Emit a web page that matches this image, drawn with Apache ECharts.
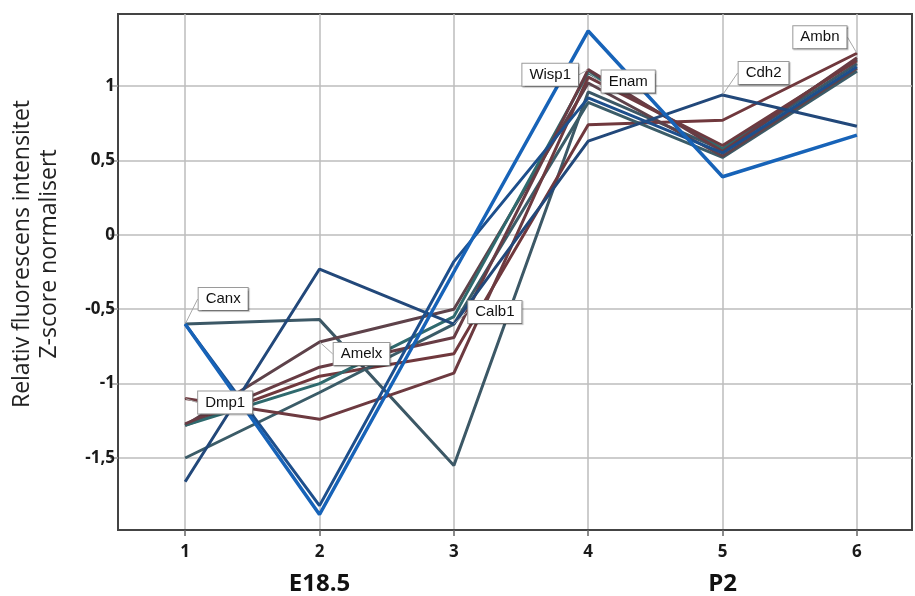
<!DOCTYPE html>
<html><head><meta charset="utf-8">
<script src="https://cdn.jsdelivr.net/npm/echarts@6/dist/echarts.min.js"></script>
<style>html,body{margin:0;padding:0;background:#fff}#c{width:915px;height:596px}</style>
</head><body><div id="c"></div>
<script>
// ---- data ----
const timePoints = [1, 2, 3, 4, 5, 6];
const stageTicks = [2, 5];
const stageNames = ['E18.5', 'P2'];
const yTicks = [-1.5, -1, -0.5, 0, 0.5, 1];

const canx  = [-0.60, -1.88, -0.25, 1.37, 0.39, 0.67];
const gene2 = [-0.60, -1.82, -0.18, 0.92, 0.55, 1.13];
const cdh2  = [-1.66, -0.23, -0.60, 0.63, 0.94, 0.73];
const gene4 = [-0.60, -0.57, -1.55, 0.96, 0.57, 1.15];
const amelx = [-1.28, -0.72, -0.50, 1.02, 0.53, 1.12];
const dmp1  = [-1.10, -1.24, -0.93, 1.06, 0.60, 1.17];
const wisp1 = [-1.27, -0.89, -0.69, 1.11, 0.56, 1.19];
const calb1 = [-1.50, -1.06, -0.60, 0.89, 0.52, 1.10];
const enam  = [-1.28, -1.00, -0.55, 1.09, 0.58, 1.18];
const ambn  = [-1.28, -0.95, -0.80, 0.74, 0.77, 1.22];

// ---- styling / annotation config ----
const seriesDefs = [
  {name: 'Gen 4', values: gene4, color: '#3c5866', width: 3, label: null},
  {name: 'Ambn',  values: ambn,  color: '#70383d', width: 3, label: {at: 5, dx: -37, dy: -16}},
  {name: 'Calb1', values: calb1, color: '#3b5c68', width: 3, label: {at: 2, dx: 41, dy: -12}},
  {name: 'Amelx', values: amelx, color: '#5e424a', width: 3, label: {at: 1, dx: 42, dy: 12}},
  {name: 'Enam',  values: enam,  color: '#2f6a6e', width: 3, label: {at: 3, dx: 40, dy: 9}},
  {name: 'Wisp1', values: wisp1, color: '#683c44', width: 3, label: {at: 3, dx: -38, dy: 5}},
  {name: 'Dmp1',  values: dmp1,  color: '#6d3a40', width: 3, label: {at: 0, dx: 40, dy: 4}},
  {name: 'Cdh2',  values: cdh2,  color: '#22487a', width: 3, label: {at: 4, dx: 41, dy: -22}},
  {name: 'Gen 2', values: gene2, color: '#1d4f8c', width: 3, label: null},
  {name: 'Canx',  values: canx,  color: '#1763b8', width: 3.5, label: {at: 0, dx: 38, dy: -25}}
];

const boxLabel = {
  show: true,
  position: 'inside',
  backgroundColor: '#ffffff',
  borderColor: '#9a9a9a',
  borderWidth: 1,
  padding: [4, 7, 3, 7],
  color: '#111',
  fontFamily: 'Liberation Sans',
  fontSize: 15,
  shadowColor: 'rgba(0,0,0,0.25)',
  shadowOffsetX: 1,
  shadowOffsetY: 1,
  shadowBlur: 1
};

const lineSeries = seriesDefs.map((d, si) => ({
  name: d.name,
  type: 'line',
  z: 2 + si,
  showSymbol: false,
  itemStyle: {color: d.color},
  lineStyle: {color: d.color, width: d.width},
  emphasis: {disabled: true},
  silent: true,
  data: d.values.map((v, i) => [timePoints[i], v])
}));

// overlay series that only carry the boxed gene labels (drawn above all lines)
const labelSeries = seriesDefs.filter(d => d.label).map(d => ({
  name: d.name + ' label',
  type: 'line',
  z: 50,
  silent: true,
  showSymbol: true,
  symbol: 'circle',
  symbolSize: 1,
  itemStyle: {color: d.color},
  lineStyle: {width: 0, opacity: 0},
  emphasis: {disabled: true},
  label: Object.assign({}, boxLabel, {formatter: d.name}),
  labelLine: {show: true, lineStyle: {color: '#a8a8a8', width: 1}},
  labelLayout: function () { return {dx: d.label.dx, dy: d.label.dy}; },
  data: [[timePoints[d.label.at], d.values[d.label.at]]]
}));

const chart = echarts.init(document.getElementById('c'), null, {renderer: 'canvas'});
chart.setOption({
  animation: false,
  backgroundColor: '#ffffff',
  grid: {left: 118, right: 3, top: 14, bottom: 66, show: true, borderColor: '#444', borderWidth: 2},
  xAxis: [{
    type: 'value', min: 0.5, max: 6.41,
    axisLine: {show: true, onZero: false, lineStyle: {color: '#444', width: 2}},
    axisTick: {show: true, customValues: timePoints, length: 6, lineStyle: {color: '#666', width: 1.5}},
    axisLabel: {customValues: timePoints, margin: 14, color: '#1a1a1a', fontWeight: 'bold', fontSize: 17, fontFamily: 'Open Sans'},
    splitLine: {show: true, lineStyle: {color: '#bdbdbd', width: 1.5}}
  }, {
    type: 'value', min: 0.5, max: 6.41, position: 'bottom',
    axisLine: {show: false}, axisTick: {show: false}, splitLine: {show: false},
    axisLabel: {customValues: stageTicks, margin: 42, color: '#111', fontWeight: 'bold', fontSize: 24, fontFamily: 'Open Sans',
      formatter: v => stageNames[stageTicks.indexOf(v)]}
  }],
  yAxis: {
    type: 'value', min: -1.984, max: 1.484,
    axisLine: {show: true, onZero: false, lineStyle: {color: '#444', width: 2}},
    axisTick: {show: true, customValues: yTicks, length: 8, lineStyle: {color: '#999', width: 1.5}},
    axisLabel: {customValues: yTicks, margin: 3, color: '#1a1a1a', fontWeight: 'bold', fontSize: 17, fontFamily: 'Open Sans',
      formatter: v => String(v).replace('.', ',')},
    splitLine: {show: true, lineStyle: {color: '#bdbdbd', width: 1.5}}
  },
  graphic: [{
    type: 'text', x: 36, y: 254, rotation: Math.PI / 2,
    style: {text: 'Relativ fluorescens intensitet\nZ-score normalisert', textAlign: 'center', textVerticalAlign: 'middle',
      fontFamily: 'Open Sans', fontSize: 23, lineHeight: 27, fill: '#222'}
  }],
  series: lineSeries.concat(labelSeries)
});
</script></body></html>
